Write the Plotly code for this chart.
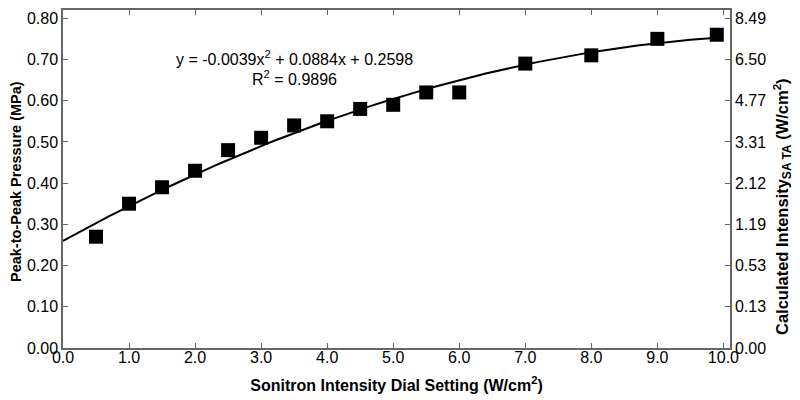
import plotly.graph_objects as go
import numpy as np

dial_setting = [0.5, 1.0, 1.5, 2.0, 2.5, 3.0, 3.5, 4.0, 4.5, 5.0, 5.5, 6.0, 7.0, 8.0, 9.0, 9.9]
pressure = [0.27, 0.35, 0.39, 0.43, 0.48, 0.51, 0.54, 0.55, 0.58, 0.59, 0.62, 0.62, 0.69, 0.71, 0.75, 0.76]

fit_coeffs = [-0.0039, 0.0884, 0.2598]  # quadratic trendline shown on chart
fit_label = "y = -0.0039x<sup>2</sup> + 0.0884x + 0.2598"
r2_label = "R<sup>2</sup> = 0.9896"

left_tickvals = [0.0, 0.1, 0.2, 0.3, 0.4, 0.5, 0.6, 0.7, 0.8]
left_ticktext = ["0.00", "0.10", "0.20", "0.30", "0.40", "0.50", "0.60", "0.70", "0.80"]
right_ticktext = ["0.00", "0.13", "0.53", "1.19", "2.12", "3.31", "4.77", "6.50", "8.49"]
x_tickvals = [0, 1, 2, 3, 4, 5, 6, 7, 8, 9, 10]
x_ticktext = ["0.0", "1.0", "2.0", "3.0", "4.0", "5.0", "6.0", "7.0", "8.0", "9.0", "10.0"]

left_title = "<b>Peak-to-Peak Pressure (MPa)</b>"
right_title = "<b>Calculated Intensity<sub><span style='font-size:12px'>SA TA</span></sub> (W/cm<sup>2</sup>)</b>"
x_title = "<b>Sonitron Intensity Dial Setting (W/cm<sup>2</sup>)</b>"

xfit = np.linspace(0, 10, 101)
yfit = np.polyval(fit_coeffs, xfit)

font = "Arial, Liberation Sans, sans-serif"
axcol = "#666666"
ML, MR, MT, MB = 63, 70, 10, 52
plot_w = 800 - ML - MR
plot_h = 400 - MT - MB

fig = go.Figure()
fig.add_trace(go.Scatter(x=xfit, y=yfit, mode="lines",
                         line=dict(color="black", width=2), hoverinfo="skip"))
fig.add_trace(go.Scatter(x=dial_setting, y=pressure, mode="markers",
                         marker=dict(symbol="square", size=14, color="black")))
fig.add_trace(go.Scatter(x=dial_setting, y=pressure, mode="markers", yaxis="y2",
                         marker=dict(opacity=0), hoverinfo="skip"))

fig.update_layout(
    width=800, height=400,
    margin=dict(l=ML, r=MR, t=MT, b=MB),
    paper_bgcolor="white", plot_bgcolor="white",
    showlegend=False,
    font=dict(family=font, size=16, color="black"),
    xaxis=dict(range=[0, 10.1], tickvals=x_tickvals, ticktext=x_ticktext,
               showline=True, linecolor=axcol, linewidth=1.5, mirror="ticks",
               ticks="inside", ticklen=5, tickcolor=axcol, showgrid=False, zeroline=False,
               tickfont=dict(size=16), ticklabelstandoff=-6, automargin=False,
               title=dict(text=x_title, font=dict(size=16))),
    yaxis=dict(range=[0, 0.82], tickvals=left_tickvals, ticktext=left_ticktext,
               showline=True, linecolor=axcol, linewidth=1.5,
               ticks="inside", ticklen=5, tickcolor=axcol, showgrid=False, zeroline=False,
               tickfont=dict(size=16), automargin=False),
    yaxis2=dict(range=[0, 0.82], tickvals=left_tickvals, ticktext=right_ticktext,
                overlaying="y", side="right",
                showline=True, linecolor=axcol, linewidth=1.5,
                ticks="inside", ticklen=5, tickcolor=axcol, showgrid=False, zeroline=False,
                tickfont=dict(size=16), automargin=False),
    annotations=[
        dict(x=3.5, y=0.703, xref="x", yref="y", text=fit_label, showarrow=False,
             font=dict(size=16), xanchor="center"),
        dict(x=3.5, y=0.655, xref="x", yref="y", text=r2_label, showarrow=False,
             font=dict(size=16), xanchor="center"),
        dict(x=(782 - ML) / plot_w, y=(400 - MB - 207) / plot_h, xref="paper", yref="paper",
             text=right_title, showarrow=False, textangle=-90, font=dict(size=16.5),
             xanchor="center", yanchor="middle"),
        dict(x=(16 - ML) / plot_w, y=(400 - MB - 182) / plot_h, xref="paper", yref="paper",
             text=left_title, showarrow=False, textangle=-90, font=dict(size=14.5),
             xanchor="center", yanchor="middle"),
    ],
)

fig.write_html("out.html", post_script="document.body.style.margin='0';",
               config={"displayModeBar": False})
